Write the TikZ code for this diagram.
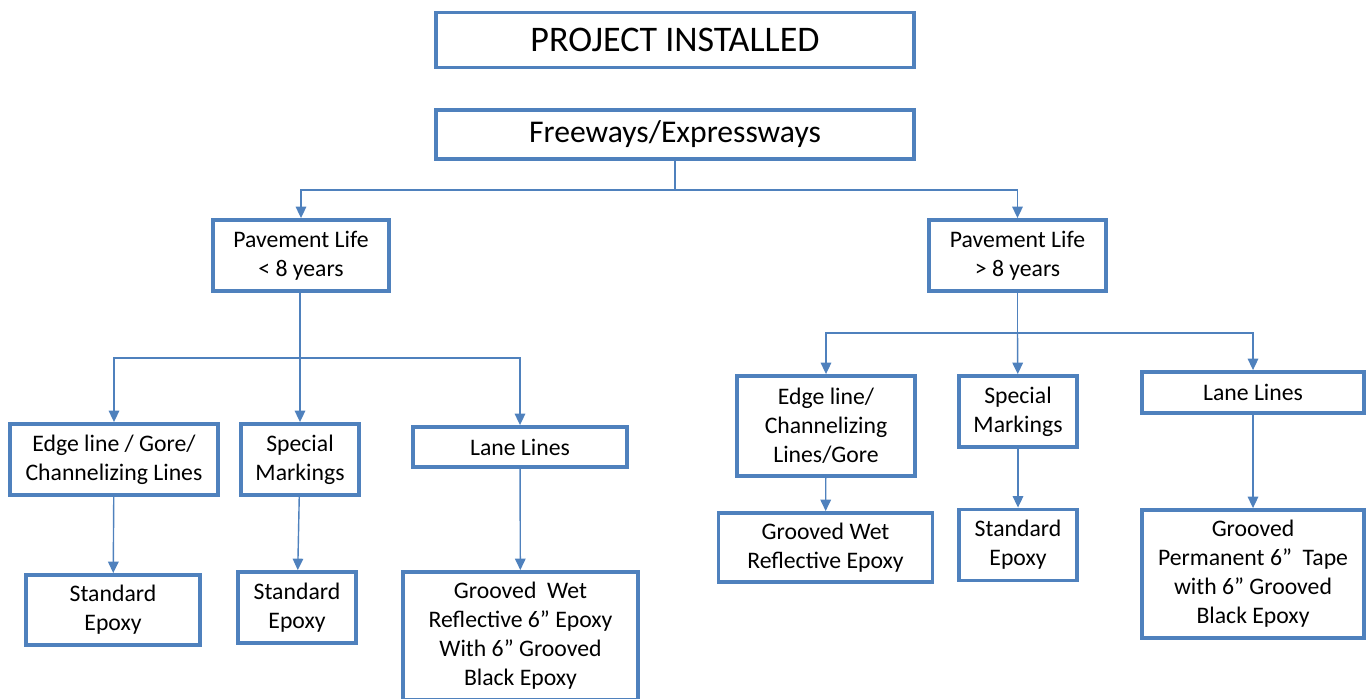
\documentclass[tikz,border=0pt]{standalone}
\usepackage{fontspec}
\setmainfont{Carlito}
\usetikzlibrary{arrows.meta}
\definecolor{boxblue}{RGB}{79,129,189}
\newcommand\px{0.02cm}
\begin{document}
\begin{tikzpicture}[x=0.02cm,y=-0.02cm,
        box/.style={draw=boxblue, line width=2.2pt, fill=white, align=center, inner sep=0pt,
            font=\fontsize{13.5}{16.5}\selectfont},
        link/.style={draw=boxblue, line width=0.8pt, -{Triangle[length=6.5pt,width=6pt]}},
        line/.style={draw=boxblue, line width=0.8pt}]
        \useasboundingbox (0,0) rectangle (1372,698);
        \node [box, minimum width=478*\px, minimum height=55*\px, font=\fontsize{20.5}{24}\selectfont] (pi) at (675,40) {PROJECT INSTALLED};
        \node [box, minimum width=478*\px, minimum height=49*\px, font=\fontsize{18}{22}\selectfont] (fw) at (675,134.5) {Freeways/Expressways};
        \node [box, minimum width=176*\px, minimum height=71*\px] (pl1) at (301,255.5) {Pavement Life\\< 8 years};
        \node [box, minimum width=177*\px, minimum height=71*\px] (pl2) at (1017.5,255.5) {Pavement Life\\> 8 years};
        \node [box, minimum width=208*\px, minimum height=71*\px] (ed1) at (114,459.5) {Edge line / Gore/\\Channelizing Lines};
        \node [box, minimum width=118*\px, minimum height=71*\px] (sm1) at (300,459.5) {Special\\Markings};
        \node [box, minimum width=214*\px, minimum height=40*\px] (ll1) at (520,447) {Lane Lines};
        \node [box, minimum width=174*\px, minimum height=70*\px] (se1) at (113,610) {Standard\\Epoxy};
        \node [box, minimum width=118*\px, minimum height=71*\px] (se2) at (297,607.5) {Standard\\Epoxy};
        \node [box, minimum width=235*\px, minimum height=128*\px] (gw1) at (520.5,636) {Grooved\ \ Wet\\Reflective 6” Epoxy\\With 6” Grooved\\Black Epoxy};
        \node [box, minimum width=178*\px, minimum height=100*\px] (ed2) at (826,426) {Edge line/\\Channelizing\\Lines/Gore};
        \node [box, minimum width=118*\px, minimum height=71*\px] (sm2) at (1018,411.5) {Special\\Markings};
        \node [box, minimum width=222*\px, minimum height=41*\px] (ll2) at (1253,392.5) {Lane Lines};
        \node [box, minimum width=214*\px, minimum height=69*\px] (gw2) at (825.5,547.5) {Grooved Wet\\Reflective Epoxy};
        \node [box, minimum width=118*\px, minimum height=71*\px] (se3) at (1018,545) {Standard\\Epoxy};
        \node [box, minimum width=222*\px, minimum height=128*\px] (gt) at (1253,574) {Grooved\\Permanent 6”\ \ Tape\\with 6” Grooved\\Black Epoxy};
        \coordinate (j1) at (675,190);
        \coordinate (j2) at (300,358);
        \coordinate (j3) at (1017.5,333);
        \draw [line] (fw) -- (j1);
        \draw [link] (j1) -| (pl1);
        \draw [link] (j1) -| (pl2);
        \draw [line] (pl1.south -| j2) -- (j2);
        \draw [link] (j2) -| (ed1);
        \draw [link] (j2) -- (sm1);
        \draw [link] (j2) -| (ll1);
        \draw [line] (pl2) -- (j3);
        \draw [link] (j3) -| (ed2);
        \draw [link] (j3) -- (sm2);
        \draw [link] (j3) -| (ll2);
        \draw [link] (ed1) -- (se1);
        \draw [link] (sm1) -- (se2);
        \draw [link] (ll1) -- (gw1);
        \draw [link] (ed2) -- (gw2);
        \draw [link] (sm2) -- (se3);
        \draw [link] (ll2) -- (gt);
\end{tikzpicture}
\end{document}
